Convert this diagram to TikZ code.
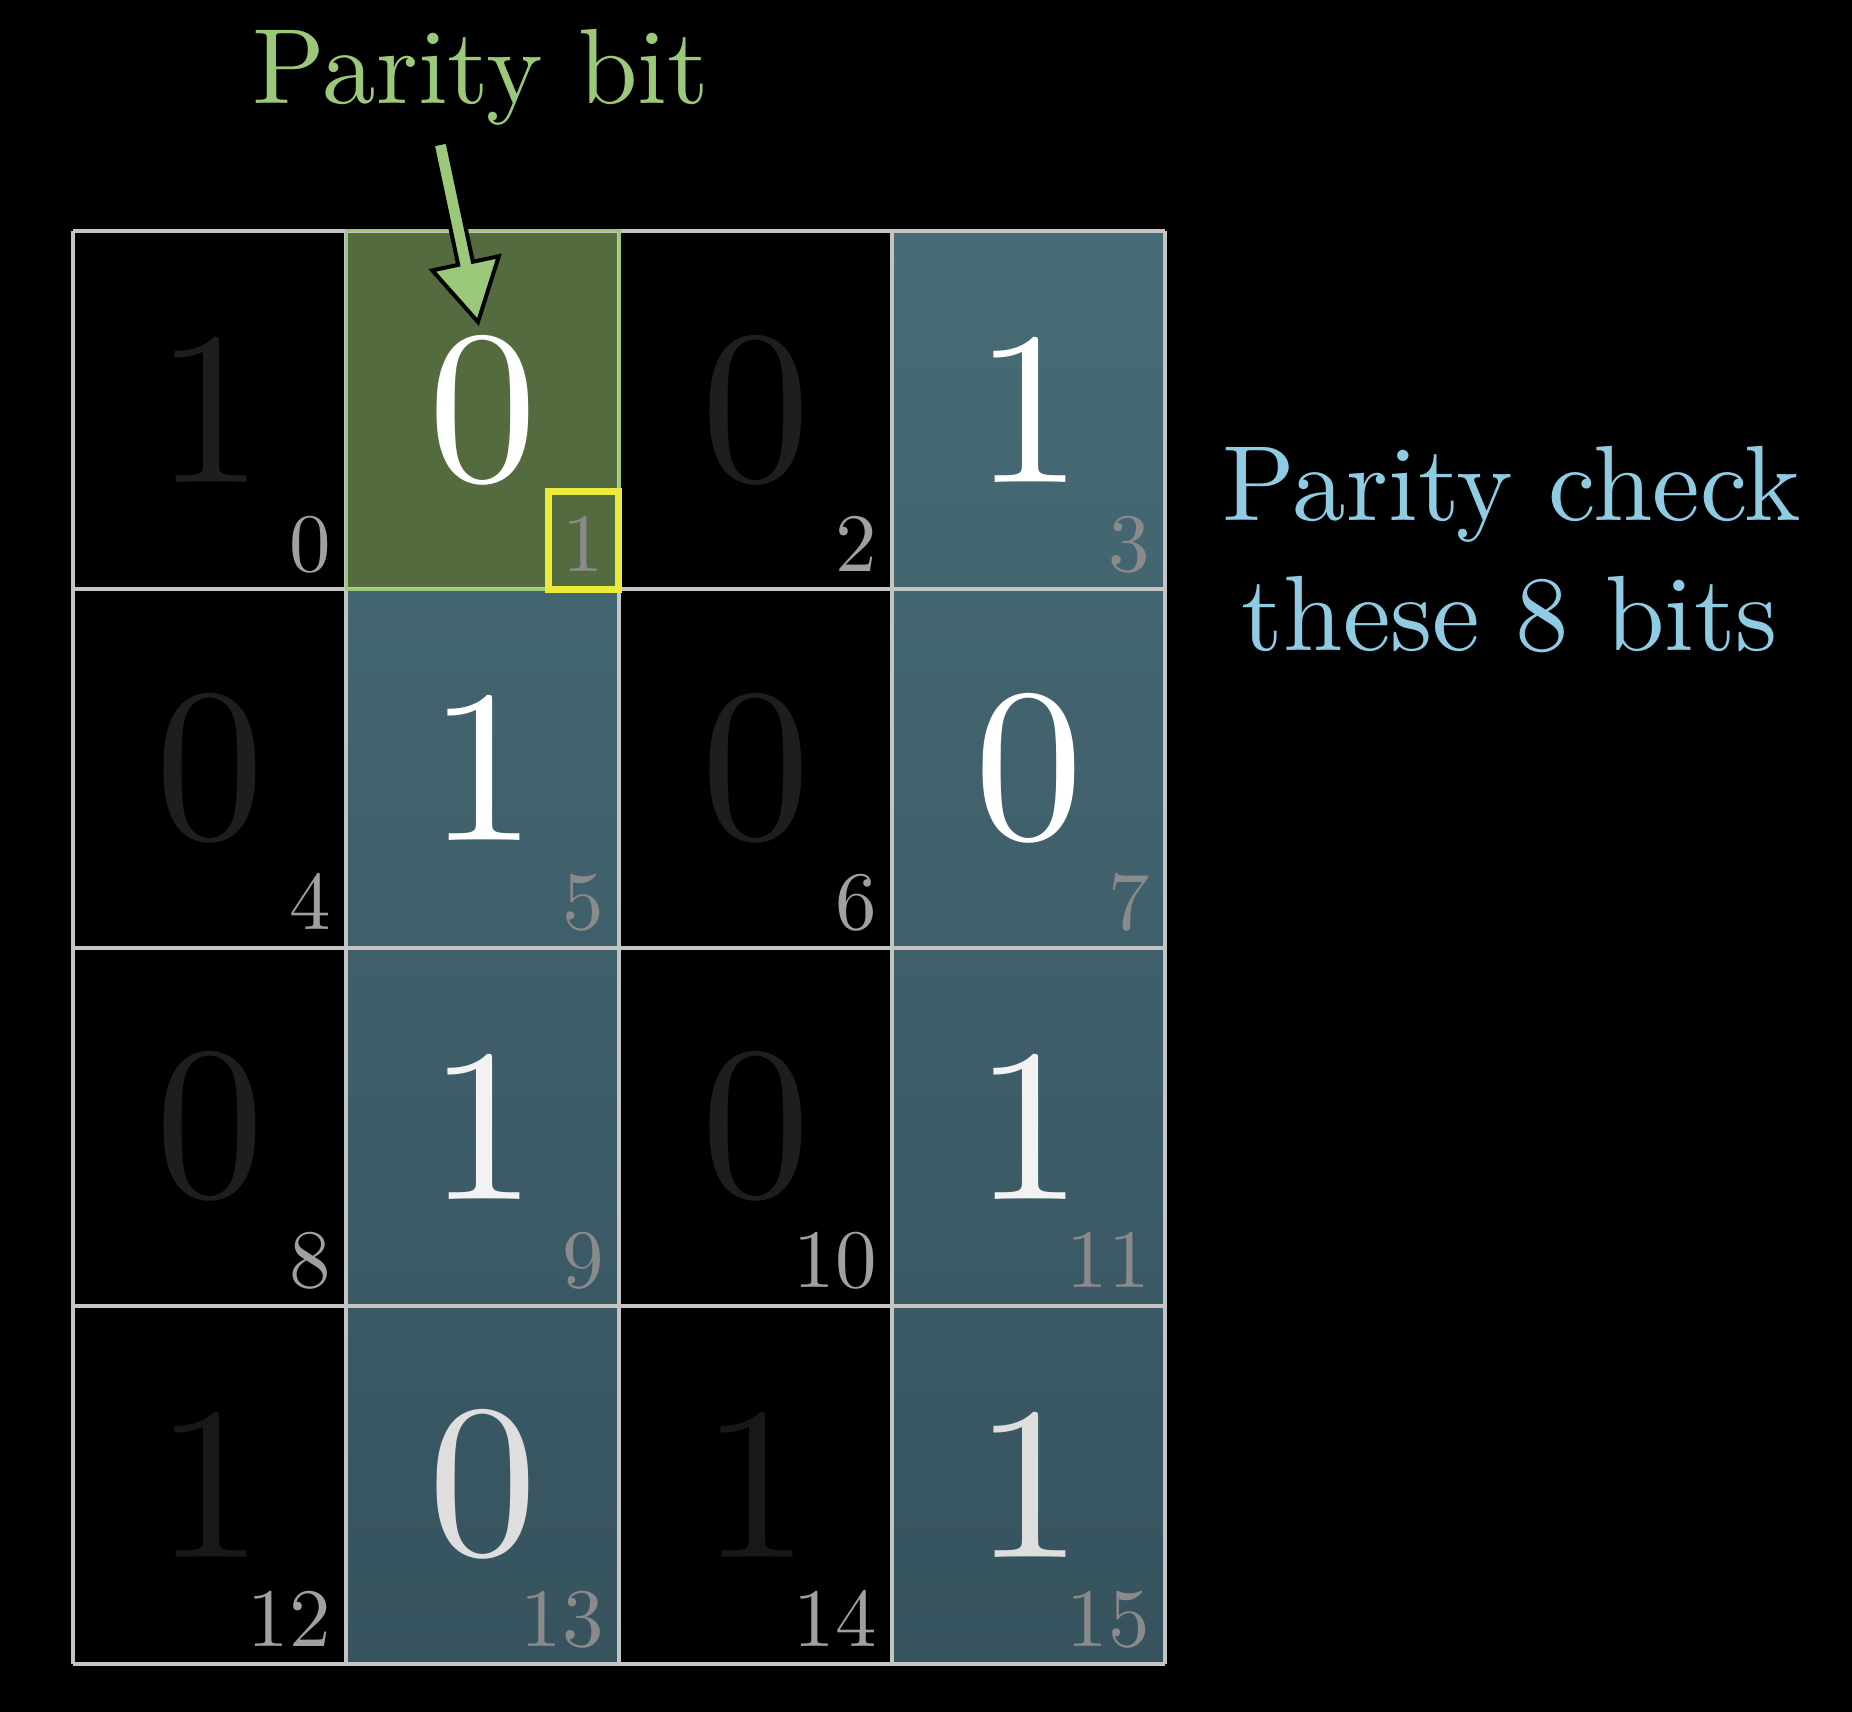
\documentclass[tikz,border=0pt]{standalone}
\usepackage{fontspec}
\setmainfont{lmroman10-regular.otf}
\usetikzlibrary{calc}
\definecolor{pgreen}{RGB}{156,200,122}
\definecolor{pblue}{RGB}{143,204,228}
\definecolor{gfill}{RGB}{84,107,64}
\definecolor{gridc}{RGB}{196,196,196}
\definecolor{bl0}{RGB}{71,107,118}
\definecolor{bl1}{RGB}{67,101,112}
\definecolor{bl2}{RGB}{63,95,106}
\definecolor{bl3}{RGB}{58,89,100}
\definecolor{bl4}{RGB}{54,83,94}
\definecolor{dimd}{RGB}{30,30,30}
\definecolor{idxk}{RGB}{160,160,160}
\definecolor{idxb}{RGB}{138,138,138}
\definecolor{yel}{RGB}{235,235,60}
\begin{document}
\begin{tikzpicture}[x=0.5pt,y=-0.5pt,
  gridline/.style={draw=gridc,line width=2pt},
  bigdigit/.style={inner sep=0pt,font=\fontsize{109}{116}\selectfont},
  idxnum/.style={inner sep=0pt,anchor=base east,font=\fontsize{41.5}{45}\selectfont},
  lbl/.style={inner sep=0pt,anchor=base,font=\fontsize{53.5}{60}\selectfont}]
\fill[black] (0,0) rectangle (1852,1712);
\useasboundingbox (0,0) rectangle (1852,1712);
% blue cells
\foreach \c/\r/\t/\b in {3/0/bl0/bl1,1/1/bl1/bl2,3/1/bl1/bl2,1/2/bl2/bl3,3/2/bl2/bl3,1/3/bl3/bl4,3/3/bl3/bl4}{
  \shade[top color=\t,bottom color=\b] ({73+273*\c},{231+358.25*\r}) rectangle ({73+273*(\c+1)},{231+358.25*(\r+1)});
}
% green cell
\fill[gfill] (346,231) rectangle (619,589.25);
% grid
\foreach \c in {0,...,4}{ \draw[gridline] ({73+273*\c},231) -- ({73+273*\c},1664); }
\foreach \r in {0,...,4}{ \draw[gridline] (73,{231+358.25*\r}) -- (1165,{231+358.25*\r}); }
\draw[draw=pgreen,line width=1.5pt] (346,231) rectangle (619,589.25);
% digits and indices
\foreach \i/\v/\col/\icol in {0/1/dimd/idxk,1/0/white/idxb,2/0/dimd/idxk,3/1/white/idxb,
  4/0/dimd/idxk,5/1/white/idxb,6/0/dimd/idxk,7/0/white/idxb,
  8/0/dimd/idxk,9/1/white!95!black/idxb,10/0/dimd/idxk,11/1/white!95!black/idxb,
  12/1/dimd!80!black/idxk,13/0/white!87!black/idxb,14/1/dimd!80!black/idxk,15/1/white!87!black/idxb}{
  \pgfmathtruncatemacro{\cc}{mod(\i,4)}
  \pgfmathtruncatemacro{\rr}{div(\i,4)}
  \node[bigdigit,text=\col] (d\i) at ({73+273*\cc+136.5},{231+358.25*\rr+179}) {\v};
  \node[idxnum,text=\icol] (n\i) at ({73+273*(\cc+1)-15},{231+358.25*(\rr+1)-18}) {\i};
}
% yellow box
\draw[yel,line width=3.5pt] (548.5,491.5) rectangle (618.5,589);
% labels
\node[lbl,text=pgreen] (pb) at (481,104) {Parity bit};
\node[lbl,text=pblue] (pc1) at (1512,520) {Parity check};
\node[lbl,text=pblue] (pc2) at (1510,650) {these 8 bits};
% arrow
\coordinate (arS) at (440,143);
\coordinate (arT) at (478,322);
\coordinate (arH) at ($(arT)!30pt!(arS)$);
\filldraw[fill=pgreen,draw=black,line width=2pt,line join=miter]
  ($(arS)!3.75pt!90:(arT)$) -- ($(arH)!3.75pt!-90:(arS)$) -- ($(arH)!17pt!-90:(arS)$) -- (arT)
  -- ($(arH)!17pt!90:(arS)$) -- ($(arH)!3.75pt!90:(arS)$) -- ($(arS)!3.75pt!-90:(arT)$) -- cycle;
\end{tikzpicture}
\end{document}
